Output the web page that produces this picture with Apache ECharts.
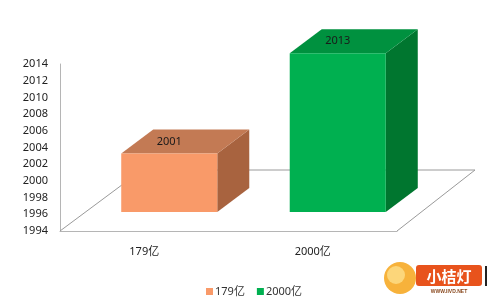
<!DOCTYPE html>
<html><head><meta charset="utf-8">
<script src="https://cdn.jsdelivr.net/npm/echarts@6/dist/echarts.min.js"></script>
<style>html,body{margin:0;padding:0;background:#fff}#c{width:489px;height:301px}</style>
</head><body><div id="c"></div>
<script>
const categories = ['179亿', '2000亿'];
const values = [2001, 2013];
const yTicks = [1994, 2014, 2];
const frontColors = ['#F99A69', '#00B050'];
const topColors = ['#C37A54', '#00913F'];
const sideColors = ['#A8633F', '#00762F'];

const FRONT_DX = 25, FRONT_DY = -19;   // depth shift of bar front face
const DEPTH_DX = 32, DEPTH_DY = -24;   // bar depth
const FLOOR_DX = 82, FLOOR_DY = -61;   // floor depth
const FONT = '"Noto Sans", "Noto Sans CJK SC", sans-serif';

const chart = echarts.init(document.getElementById('c'));

function barRender(params, api) {
  const idx = api.value(0);
  const base = api.coord([idx, yTicks[0]]);
  const top = api.coord([idx, api.value(1)]);
  const bw = api.size([1, 0])[0] * 0.57;
  const cx = top[0] + FRONT_DX;
  const x0 = cx - bw / 2, x1 = cx + bw / 2;
  const yb = base[1] + FRONT_DY, yt = top[1] + FRONT_DY;
  const ci = params.seriesIndex - 1;
  return {
    type: 'group',
    children: [
      { type: 'polygon', shape: { points: [[x1, yt], [x1 + DEPTH_DX, yt + DEPTH_DY], [x1 + DEPTH_DX, yb + DEPTH_DY], [x1, yb]] }, style: { fill: sideColors[ci] } },
      { type: 'polygon', shape: { points: [[x0, yt], [x0 + DEPTH_DX, yt + DEPTH_DY], [x1 + DEPTH_DX, yt + DEPTH_DY], [x1, yt]] }, style: { fill: topColors[ci] } },
      { type: 'rect', shape: { x: x0, y: yt, width: bw, height: yb - yt }, style: { fill: frontColors[ci] } },
      { type: 'text', x: cx, y: yt - 12, style: { text: String(api.value(1)), fill: '#1a1a1a', font: '11px ' + FONT, align: 'center', verticalAlign: 'middle' } }
    ]
  };
}

function floorRender(params, api) {
  const cs = params.coordSys;
  const fl = [cs.x, cs.y + cs.height], fr = [cs.x + cs.width, cs.y + cs.height];
  const bl = [fl[0] + FLOOR_DX, fl[1] + FLOOR_DY], br = [fr[0] + FLOOR_DX - 4, fr[1] + FLOOR_DY];
  const st = { stroke: '#9a9a9a', lineWidth: 1, fill: null };
  return {
    type: 'group',
    children: [
      { type: 'polyline', shape: { points: [fl, bl, br, fr] }, style: st }
    ]
  };
}

const series = [{
  type: 'custom', name: 'floor', renderItem: floorRender, data: [[0, yTicks[0]]], silent: true, z: 1
}];
categories.forEach((c, i) => {
  series.push({
    type: 'custom', name: c, renderItem: barRender, data: [[i, values[i]]],
    itemStyle: { color: frontColors[i] }, encode: { x: 0, y: 1 }, z: 2 + i
  });
});

chart.setOption({
  animation: false,
  backgroundColor: '#fff',
  textStyle: { fontFamily: FONT },
  grid: { left: 60, top: 64, width: 337, height: 167 },
  legend: {
    data: categories, left: 201, top: 281, itemWidth: 7, itemHeight: 7, itemGap: 12,
    icon: 'rect', textStyle: { fontSize: 11, color: '#333', padding: [0, 0, 0, -3] }
  },
  xAxis: {
    type: 'category', data: categories,
    axisLine: { lineStyle: { color: '#b5b5b5' } }, axisTick: { show: false },
    axisLabel: { fontSize: 11, color: '#222', margin: 15 }
  },
  yAxis: {
    type: 'value', min: yTicks[0], max: yTicks[1], interval: yTicks[2],
    axisLine: { show: true, lineStyle: { color: '#b5b5b5' } }, axisTick: { show: false },
    splitLine: { show: false },
    axisLabel: { fontSize: 11, color: '#222', margin: 12, formatter: v => String(v) }
  },
  graphic: [
    { type: 'circle', shape: { cx: 400, cy: 278, r: 16 }, style: { fill: '#F7B23B' }, z: 10 },
    { type: 'circle', shape: { cx: 396, cy: 275, r: 9 }, style: { fill: '#FCD67A' }, z: 10 },
    { type: 'rect', shape: { x: 416, y: 265, width: 66, height: 21, r: 3 }, style: { fill: '#E8531C' }, z: 11 },
    { type: 'text', x: 449, y: 276, style: { text: '小桔灯', fill: '#fff', font: 'bold 15px "Noto Sans CJK SC"', align: 'center', verticalAlign: 'middle' }, z: 12 },
    { type: 'text', x: 449, y: 292, style: { text: 'WWW.IIVD.NET', fill: '#8a4a20', font: 'bold 5px sans-serif', align: 'center', verticalAlign: 'middle' }, z: 12 },
    { type: 'rect', shape: { x: 485, y: 266, width: 2, height: 20 }, style: { fill: '#222' }, z: 12 }
  ],
  series: series
});
</script></body></html>
